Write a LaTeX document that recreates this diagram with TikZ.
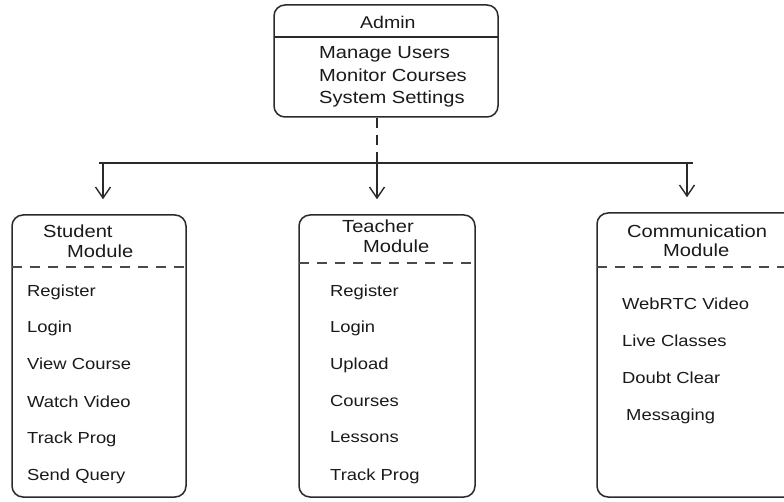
\documentclass[tikz,border=0pt]{standalone}
\usepackage{fontspec}
\setmainfont{Liberation Sans}[FakeStretch=1.15]
\usetikzlibrary{arrows.meta,calc}
\definecolor{ink}{HTML}{2A2A2A}
\definecolor{txt}{HTML}{1A1A1A}
\tikzset{
  box/.style={draw=ink, line width=1.5pt, rounded corners=11pt, inner sep=0pt},
  sepline/.style={draw=ink, line width=1.4pt},
  dashsep/.style={draw=ink!85, line width=1.5pt, dash pattern=on 10pt off 8pt},
  busline/.style={draw=ink, line width=1.5pt},
  dashconn/.style={draw=ink, line width=1.4pt, dash pattern=on 10pt off 7pt},
  arr/.style={draw=ink, line width=1.4pt, -{Straight Barb[length=11pt,width=15pt,line width=1.4pt]}},
  item/.style={anchor=base west, inner sep=0pt, text=txt, font=\fontsize{16}{18}\selectfont},
  title/.style={anchor=base west, inner sep=0pt, text=txt, font=\fontsize{17.5}{20}\selectfont},
  aitem/.style={anchor=base west, inner sep=0pt, text=txt, font=\fontsize{17.5}{20}\selectfont},
}
\begin{document}
\begin{tikzpicture}[x=1pt,y=-1pt]
\clip (0,0) rectangle (784,502);
\fill[white] (0,0) rectangle (784,502);

% Admin
\node[box, minimum width=224pt, minimum height=112pt] (admin) at (386,61) {};
\draw[sepline] (274,37) -- (498,37);
\node[anchor=base west, inner sep=0pt, text=txt, font=\fontsize{17}{20}\selectfont] (adminT) at (360,29) {Admin};
\node[aitem] (a1) at (319,59) {Manage Users};
\node[aitem] (a2) at (319,82) {Monitor Courses};
\node[aitem] (a3) at (319,104) {System Settings};

% Module boxes
\node[box, minimum width=174pt, minimum height=282pt] (student) at (99,356) {};
\node[box, minimum width=176pt, minimum height=282pt] (teacher) at (387,356) {};
\node[box, minimum width=210pt, minimum height=284pt] (comm) at (702,355) {};

% separators
\draw[dashsep] (12,267) -- (186,267);
\draw[dashsep] (299,263) -- (475,263);
\draw[dashsep] (597,267) -- (800,267);

% Student
\node[title] (sT1) at (43,238) {Student};
\node[title] (sT2) at (67,258) {Module};
\node[item] (s1) at (27,297) {Register};
\node[item] (s2) at (27,333) {Login};
\node[item] (s3) at (27,370) {View Course};
\node[item] (s4) at (27,407) {Watch Video};
\node[item] (s5) at (27,443) {Track Prog};
\node[item] (s6) at (27,480) {Send Query};

% Teacher
\node[title] (tT1) at (342,233) {Teacher};
\node[title] (tT2) at (363,253) {Module};
\node[item] (t1) at (330,297) {Register};
\node[item] (t2) at (330,333) {Login};
\node[item] (t3) at (330,370) {Upload};
\node[item] (t4) at (330,406) {Courses};
\node[item] (t5) at (330,442) {Lessons};
\node[item] (t6) at (330,480) {Track Prog};

% Communication
\node[title] (cT1) at (627,238) {Communication};
\node[title] (cT2) at (663,257) {Module};
\node[item] (c1) at (622,310) {WebRTC Video};
\node[item] (c2) at (622,347) {Live Classes};
\node[item] (c3) at (622,383) {Doubt Clear};
\node[item] (c4) at (626,420) {Messaging};

% connectors
\coordinate (bus) at (377,163);
\coordinate (busL) at (99,163);
\coordinate (busR) at (693,163);
\coordinate (jL) at (103,163);
\coordinate (jR) at (687,163);
\draw[dashconn] (bus |- admin.south) -- (bus);
\draw[busline] (busL) -- (busR);
\draw[arr] (jL) -- ([yshift=15pt]student.north -| jL);
\draw[arr] (bus) -- ([yshift=15pt]teacher.north -| bus);
\draw[arr] (jR) -- ([yshift=15pt]comm.north -| jR);
\end{tikzpicture}
\end{document}
